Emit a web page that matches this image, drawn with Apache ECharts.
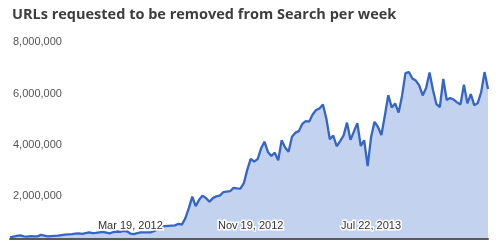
<!DOCTYPE html>
<html><head><meta charset="utf-8">
<script src="https://cdn.jsdelivr.net/npm/echarts@6/dist/echarts.min.js"></script>
<style>html,body{margin:0;padding:0;background:#fff}#c{width:500px;height:252px}</style>
</head><body><div id="c"></div>
<script>
// Weekly series start (Monday) and the labelled weeks
const startWeek = '2011-07-18';
const labelledWeeks = ['Mar 19, 2012', 'Nov 19, 2012', 'Jul 22, 2013'];
const yTicks = [0, 2000000, 4000000, 6000000, 8000000];
// URLs requested to be removed per week
const urls = [
  50000, 80000, 110000, 130000, 90000, 80000, 100000, 90000, 90000, 150000,
  120000, 90000, 100000, 110000, 120000, 140000, 160000, 170000, 180000, 200000,
  210000, 190000, 220000, 250000, 220000, 230000, 250000, 270000, 240000, 210000,
  260000, 280000, 270000, 300000, 290000, 200000, 180000, 220000, 250000, 250000,
  250000, 250000, 300000, 370000, 450000, 490000, 500000, 510000, 520000, 580000,
  550000, 800000, 1190000, 1640000, 1270000, 1520000, 1680000, 1580000, 1440000, 1580000,
  1650000, 1680000, 1810000, 1830000, 1850000, 1980000, 1960000, 1950000, 2160000, 2690000,
  3110000, 3000000, 3100000, 3510000, 3780000, 3380000, 3220000, 3350000, 3050000, 3840000,
  3550000, 3390000, 3970000, 4130000, 4190000, 4470000, 4580000, 4560000, 4840000, 5010000,
  5070000, 5230000, 4670000, 3870000, 4020000, 3600000, 3800000, 4020000, 4520000, 3850000,
  4170000, 4500000, 3610000, 3830000, 2830000, 3960000, 4550000, 4350000, 4040000, 4790000,
  5590000, 5110000, 5270000, 4910000, 5560000, 6450000, 6490000, 6240000, 6160000, 5970000,
  5580000, 5870000, 6470000, 5790000, 5240000, 5130000, 6220000, 5400000, 5480000, 5420000,
  5310000, 5230000, 6000000, 5270000, 5630000, 5200000, 5280000, 5700000, 6490000, 5830000
];

const MONTHS = ['Jan','Feb','Mar','Apr','May','Jun','Jul','Aug','Sep','Oct','Nov','Dec'];
const weeks = [];
(function(){
  const t0 = Date.parse(startWeek + 'T00:00:00Z');
  for (let i = 0; i < urls.length; i++) {
    const d = new Date(t0 + i * 7 * 86400000);
    weeks.push(MONTHS[d.getUTCMonth()] + ' ' + d.getUTCDate() + ', ' + d.getUTCFullYear());
  }
})();

const chart = echarts.init(document.getElementById('c'), null, {renderer: 'canvas'});
chart.setOption({
  animation: false,
  title: {
    text: 'URLs requested to be removed from Search per week',
    left: 7, top: 2,
    textStyle: {fontFamily: 'Open Sans', fontWeight: 'bold', fontSize: 14.5, color: '#3d3d3d'}
  },
  grid: {left: 10, right: 12, top: 33.3, bottom: 13.3, containLabel: false},
  xAxis: {
    type: 'category',
    data: weeks,
    boundaryGap: false,
    z: 10,
    axisLine: {show: true, lineStyle: {color: '#5a5a5a', width: 2}},
    axisTick: {show: false},
    splitLine: {show: false},
    axisLabel: {
      inside: true,
      margin: 7,
      interval: function(i, v){ return labelledWeeks.indexOf(v) >= 0; },
      fontFamily: 'Liberation Sans, Arial', fontSize: 11, color: '#333',
      textBorderColor: '#fff', textBorderWidth: 3
    }
  },
  yAxis: {
    type: 'value',
    min: yTicks[0], max: yTicks[yTicks.length - 1], interval: yTicks[1] - yTicks[0],
    z: 10,
    axisLine: {show: false},
    axisTick: {show: false},
    splitLine: {show: false},
    axisLabel: {
      inside: true, margin: 3, showMinLabel: false,
      align: 'left', verticalAlign: 'top', lineHeight: 18,
      fontFamily: 'Liberation Sans, Arial', fontSize: 11, color: '#555',
      formatter: function(v){ return v.toLocaleString('en-US'); }
    }
  },
  series: [{
    type: 'line',
    data: urls,
    showSymbol: false,
    smooth: false,
    lineStyle: {color: '#3565c6', width: 2.3},
    areaStyle: {color: '#c3d2ef', opacity: 1},
    z: 1
  }]
});
</script>
</body></html>
